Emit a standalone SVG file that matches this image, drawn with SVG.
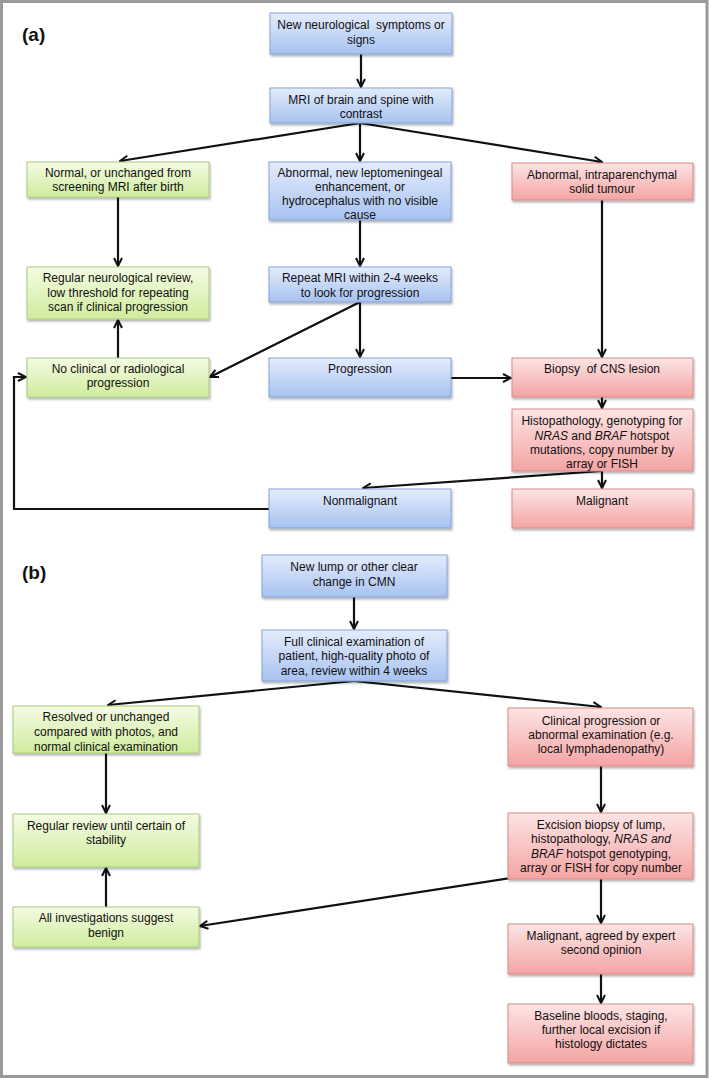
<svg xmlns="http://www.w3.org/2000/svg" width="709" height="1079" viewBox="0 0 709 1079">
<defs>
<linearGradient id="gBlue" x1="0" y1="0" x2="0" y2="1"><stop offset="0" stop-color="#e4ecfc"/><stop offset="1" stop-color="#a7c2f0"/></linearGradient>
<linearGradient id="gGreen" x1="0" y1="0" x2="0" y2="1"><stop offset="0" stop-color="#f5fbe4"/><stop offset="1" stop-color="#cfec9c"/></linearGradient>
<linearGradient id="gRed" x1="0" y1="0" x2="0" y2="1"><stop offset="0" stop-color="#fde4e4"/><stop offset="1" stop-color="#f4a4a4"/></linearGradient>
<filter id="sh" x="-10%" y="-20%" width="120%" height="150%"><feDropShadow dx="1" dy="2" stdDeviation="1.2" flood-color="#000" flood-opacity="0.3"/></filter>
<marker id="arr" viewBox="0 0 10 10" refX="9" refY="5" markerWidth="10" markerHeight="10" markerUnits="userSpaceOnUse" orient="auto"><path d="M1,1 L9,5 L1,9" fill="none" stroke="#111" stroke-width="2"/></marker>
</defs>
<style>
.blue{fill:url(#gBlue);stroke:#86a3d8;stroke-width:1;filter:url(#sh)}
.green{fill:url(#gGreen);stroke:#acca80;stroke-width:1;filter:url(#sh)}
.red{fill:url(#gRed);stroke:#d98a8a;stroke-width:1;filter:url(#sh)}
text{font-family:"Liberation Sans",Arial,sans-serif;font-size:12px;fill:#111;text-anchor:middle;white-space:pre}
.lbl{font-size:19px;font-weight:bold;text-anchor:start}
.c{fill:none;stroke:#111;stroke-width:2.2;marker-end:url(#arr)}
</style>
<rect x="1.5" y="1.5" width="705.5" height="1075" fill="#fff" stroke="#9a9a9a" stroke-width="3"/>
<text class="lbl" x="22" y="41">(a)</text>
<text class="lbl" x="22" y="579">(b)</text>
<g id="connectors">
<line class="c" x1="361" y1="54" x2="361" y2="87"/>
<line class="c" x1="360" y1="123" x2="120" y2="161"/>
<line class="c" x1="360" y1="123" x2="360" y2="161"/>
<line class="c" x1="360" y1="123" x2="602" y2="162"/>
<line class="c" x1="118" y1="197" x2="118" y2="266"/>
<line class="c" x1="360" y1="220" x2="360" y2="266"/>
<line class="c" x1="360" y1="302" x2="360" y2="357"/>
<line class="c" x1="360" y1="302" x2="210" y2="377"/>
<line class="c" x1="118" y1="358" x2="118" y2="320"/>
<line class="c" x1="602" y1="200" x2="602" y2="357"/>
<line class="c" x1="451" y1="378" x2="511" y2="378"/>
<line class="c" x1="602" y1="397" x2="602" y2="408"/>
<line class="c" x1="602" y1="471" x2="602" y2="488"/>
<line class="c" x1="602" y1="471" x2="363" y2="488"/>
<polyline class="c" points="269,509 14,509 14,377 26,377"/>
<line class="c" x1="354" y1="597" x2="354" y2="629"/>
<line class="c" x1="354" y1="681" x2="108" y2="705"/>
<line class="c" x1="354" y1="681" x2="601" y2="707"/>
<line class="c" x1="106" y1="753" x2="106" y2="813"/>
<line class="c" x1="106" y1="907" x2="106" y2="868"/>
<line class="c" x1="601" y1="766" x2="601" y2="812"/>
<line class="c" x1="601" y1="864" x2="200" y2="926"/>
<line class="c" x1="601" y1="879" x2="601" y2="923"/>
<line class="c" x1="601" y1="974" x2="601" y2="1003"/>
</g>
<g id="a1"><rect class="blue" x="270" y="13" width="182" height="41"/><text x="361" y="29">New neurological  symptoms or</text><text x="361" y="44">signs</text></g>
<g id="a2"><rect class="blue" x="270" y="88" width="182" height="35"/><text x="361" y="104">MRI of brain and spine with</text><text x="361" y="118">contrast</text></g>
<g id="a3"><rect class="green" x="27" y="162" width="182" height="35"/><text x="118" y="177">Normal, or unchanged from</text><text x="118" y="191">screening MRI after birth</text></g>
<g id="a4"><rect class="blue" x="269" y="162" width="182" height="58"/><text x="360" y="177">Abnormal, new leptomeningeal</text><text x="360" y="191">enhancement, or</text><text x="360" y="205">hydrocephalus with no visible</text><text x="360" y="219">cause</text></g>
<g id="a5"><rect class="red" x="512" y="163" width="181" height="37"/><text x="602" y="179">Abnormal, intraparenchymal</text><text x="602" y="193">solid tumour</text></g>
<g id="a6"><rect class="green" x="27" y="267" width="182" height="52"/><text x="118" y="282">Regular neurological review,</text><text x="118" y="297">low threshold for repeating</text><text x="118" y="311">scan if clinical progression</text></g>
<g id="a7"><rect class="blue" x="269" y="267" width="182" height="35"/><text x="360" y="282">Repeat MRI within 2-4 weeks</text><text x="360" y="297">to look for progression</text></g>
<g id="a8"><rect class="green" x="27" y="358" width="182" height="39"/><text x="118" y="373">No clinical or radiological</text><text x="118" y="387">progression</text></g>
<g id="a9"><rect class="blue" x="269" y="358" width="182" height="39"/><text x="360" y="373">Progression</text></g>
<g id="a10"><rect class="red" x="512" y="358" width="181" height="39"/><text x="602" y="373">Biopsy  of CNS lesion</text></g>
<g id="a11"><rect class="red" x="512" y="409" width="181" height="62"/><text x="602" y="425">Histopathology, genotyping for</text><text x="602" y="440"><tspan font-style="italic">NRAS</tspan> and <tspan font-style="italic">BRAF</tspan> hotspot</text><text x="602" y="454">mutations, copy number by</text><text x="602" y="468">array or FISH</text></g>
<g id="a12"><rect class="blue" x="269" y="489" width="182" height="39"/><text x="360" y="505">Nonmalignant</text></g>
<g id="a13"><rect class="red" x="512" y="489" width="181" height="39"/><text x="602" y="505">Malignant</text></g>
<g id="b1"><rect class="blue" x="262" y="555" width="185" height="42"/><text x="354" y="571">New lump or other clear</text><text x="354" y="586">change in CMN</text></g>
<g id="b2"><rect class="blue" x="262" y="630" width="185" height="51"/><text x="354" y="646">Full clinical examination of</text><text x="354" y="660">patient, high-quality photo of</text><text x="354" y="675">area, review within 4 weeks</text></g>
<g id="b3"><rect class="green" x="13" y="706" width="186" height="47"/><text x="106" y="721">Resolved or unchanged</text><text x="106" y="736">compared with photos, and</text><text x="106" y="751">normal clinical examination</text></g>
<g id="b4"><rect class="red" x="508" y="708" width="185" height="58"/><text x="601" y="725">Clinical progression or</text><text x="601" y="739">abnormal examination (e.g.</text><text x="601" y="753">local lymphadenopathy)</text></g>
<g id="b5"><rect class="green" x="13" y="814" width="186" height="53"/><text x="106" y="830">Regular review until certain of</text><text x="106" y="844">stability</text></g>
<g id="b6"><rect class="red" x="508" y="813" width="185" height="66"/><text x="601" y="829">Excision biopsy of lump,</text><text x="601" y="843">histopathology, <tspan font-style="italic">NRAS and</tspan></text><text x="601" y="858"><tspan font-style="italic">BRAF</tspan> hotspot genotyping,</text><text x="601" y="872">array or FISH for copy number</text></g>
<g id="b7"><rect class="green" x="13" y="907" width="186" height="40"/><text x="106" y="922">All investigations suggest</text><text x="106" y="937">benign</text></g>
<g id="b8"><rect class="red" x="508" y="924" width="185" height="50"/><text x="601" y="940">Malignant, agreed by expert</text><text x="601" y="954">second opinion</text></g>
<g id="b9"><rect class="red" x="508" y="1004" width="185" height="59"/><text x="601" y="1020">Baseline bloods, staging,</text><text x="601" y="1034">further local excision if</text><text x="601" y="1048">histology dictates</text></g>
</svg>
